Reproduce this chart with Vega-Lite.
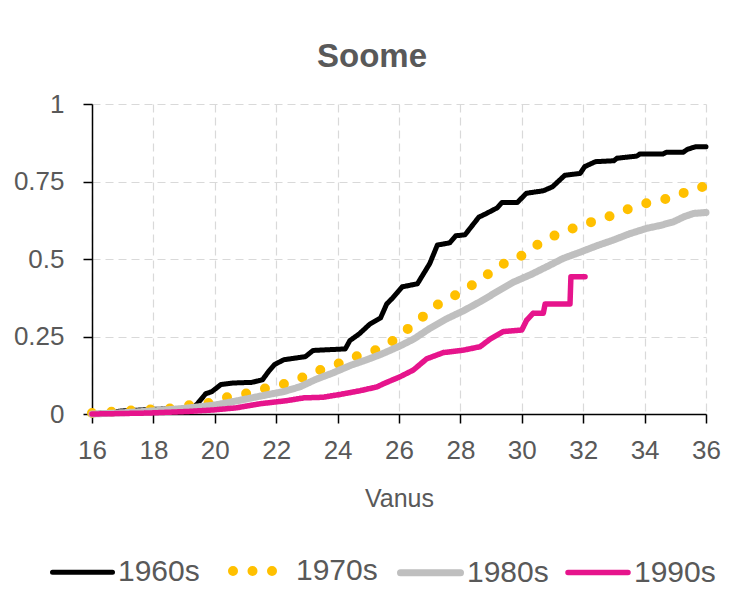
{
  "$schema": "https://vega.github.io/schema/vega-lite/v6.json",
  "width": 614,
  "height": 310,
  "autosize": {"type": "none"},
  "padding": {"left": 92, "top": 104, "right": 23, "bottom": 179},
  "background": "white",
  "title": {
    "text": "Soome",
    "fontSize": 33,
    "fontWeight": "bold",
    "font": "Liberation Sans",
    "color": "#595959",
    "anchor": "middle",
    "dx": -27,
    "offset": 17
  },
  "config": {
    "view": {"stroke": null},
    "font": "Liberation Sans",
    "axis": {
      "labelColor": "#595959",
      "titleColor": "#595959",
      "labelFontSize": 26,
      "titleFontSize": 25,
      "titleFontWeight": "normal",
      "domainColor": "#000000",
      "domainWidth": 1.5,
      "tickColor": "#000000",
      "tickWidth": 1.5,
      "tickSize": 9,
      "gridColor": "#d9d9d9",
      "gridDash": [8, 5],
      "gridWidth": 1.2,
      "labelFlush": false
    },
    "legend": {
      "labelColor": "#595959",
      "labelFontSize": 30,
      "labelFont": "Liberation Sans"
    }
  },
  "data": {
    "values": [
      {"series": "1960s", "age": 16.0, "value": 0.0},
      {"series": "1960s", "age": 16.5, "value": 0.005},
      {"series": "1960s", "age": 17.0, "value": 0.01},
      {"series": "1960s", "age": 18.0, "value": 0.015},
      {"series": "1960s", "age": 19.0, "value": 0.018},
      {"series": "1960s", "age": 19.3, "value": 0.02},
      {"series": "1960s", "age": 19.45, "value": 0.035},
      {"series": "1960s", "age": 19.7, "value": 0.065},
      {"series": "1960s", "age": 19.9, "value": 0.072},
      {"series": "1960s", "age": 20.2, "value": 0.095},
      {"series": "1960s", "age": 20.6, "value": 0.1},
      {"series": "1960s", "age": 21.2, "value": 0.102},
      {"series": "1960s", "age": 21.55, "value": 0.11},
      {"series": "1960s", "age": 21.75, "value": 0.137},
      {"series": "1960s", "age": 21.95, "value": 0.16},
      {"series": "1960s", "age": 22.25, "value": 0.175},
      {"series": "1960s", "age": 22.95, "value": 0.185},
      {"series": "1960s", "age": 23.2, "value": 0.205},
      {"series": "1960s", "age": 24.25, "value": 0.21},
      {"series": "1960s", "age": 24.4, "value": 0.237},
      {"series": "1960s", "age": 24.7, "value": 0.258},
      {"series": "1960s", "age": 25.05, "value": 0.29},
      {"series": "1960s", "age": 25.4, "value": 0.31},
      {"series": "1960s", "age": 25.6, "value": 0.355},
      {"series": "1960s", "age": 25.8, "value": 0.375},
      {"series": "1960s", "age": 26.1, "value": 0.41},
      {"series": "1960s", "age": 26.6, "value": 0.42},
      {"series": "1960s", "age": 27.0, "value": 0.485},
      {"series": "1960s", "age": 27.25, "value": 0.545},
      {"series": "1960s", "age": 27.65, "value": 0.552},
      {"series": "1960s", "age": 27.85, "value": 0.575},
      {"series": "1960s", "age": 28.15, "value": 0.578},
      {"series": "1960s", "age": 28.6, "value": 0.635},
      {"series": "1960s", "age": 28.85, "value": 0.647},
      {"series": "1960s", "age": 29.2, "value": 0.665},
      {"series": "1960s", "age": 29.35, "value": 0.682},
      {"series": "1960s", "age": 29.85, "value": 0.682},
      {"series": "1960s", "age": 30.15, "value": 0.712},
      {"series": "1960s", "age": 30.7, "value": 0.72},
      {"series": "1960s", "age": 31.0, "value": 0.733},
      {"series": "1960s", "age": 31.4, "value": 0.77},
      {"series": "1960s", "age": 31.9, "value": 0.776},
      {"series": "1960s", "age": 32.05, "value": 0.798},
      {"series": "1960s", "age": 32.4, "value": 0.814},
      {"series": "1960s", "age": 33.0, "value": 0.817},
      {"series": "1960s", "age": 33.1, "value": 0.825},
      {"series": "1960s", "age": 33.75, "value": 0.832},
      {"series": "1960s", "age": 33.85, "value": 0.839},
      {"series": "1960s", "age": 34.6, "value": 0.839},
      {"series": "1960s", "age": 34.7, "value": 0.844},
      {"series": "1960s", "age": 35.25, "value": 0.844},
      {"series": "1960s", "age": 35.4, "value": 0.854},
      {"series": "1960s", "age": 35.65, "value": 0.862},
      {"series": "1960s", "age": 36.0, "value": 0.862},

      {"series": "1970s", "age": 16.0, "value": 0.003},
      {"series": "1970s", "age": 17.0, "value": 0.01},
      {"series": "1970s", "age": 17.94, "value": 0.015},
      {"series": "1970s", "age": 18.6, "value": 0.018},
      {"series": "1970s", "age": 19.22, "value": 0.029},
      {"series": "1970s", "age": 19.88, "value": 0.036},
      {"series": "1970s", "age": 20.46, "value": 0.056},
      {"series": "1970s", "age": 21.07, "value": 0.067},
      {"series": "1970s", "age": 21.66, "value": 0.083},
      {"series": "1970s", "age": 22.25, "value": 0.097},
      {"series": "1970s", "age": 22.83, "value": 0.117},
      {"series": "1970s", "age": 23.43, "value": 0.142},
      {"series": "1970s", "age": 24.0, "value": 0.161},
      {"series": "1970s", "age": 24.58, "value": 0.185},
      {"series": "1970s", "age": 25.19, "value": 0.204},
      {"series": "1970s", "age": 25.73, "value": 0.231},
      {"series": "1970s", "age": 26.2, "value": 0.268},
      {"series": "1970s", "age": 26.68, "value": 0.305},
      {"series": "1970s", "age": 27.12, "value": 0.346},
      {"series": "1970s", "age": 27.66, "value": 0.373},
      {"series": "1970s", "age": 28.2, "value": 0.405},
      {"series": "1970s", "age": 28.75, "value": 0.438},
      {"series": "1970s", "age": 29.2, "value": 0.478},
      {"series": "1970s", "age": 29.8, "value": 0.497},
      {"series": "1970s", "age": 30.32, "value": 0.534},
      {"series": "1970s", "age": 30.83, "value": 0.567},
      {"series": "1970s", "age": 31.41, "value": 0.588},
      {"series": "1970s", "age": 31.97, "value": 0.612},
      {"series": "1970s", "age": 32.55, "value": 0.626},
      {"series": "1970s", "age": 33.14, "value": 0.649},
      {"series": "1970s", "age": 33.72, "value": 0.671},
      {"series": "1970s", "age": 34.34, "value": 0.687},
      {"series": "1970s", "age": 34.96, "value": 0.699},
      {"series": "1970s", "age": 35.53, "value": 0.725},
      {"series": "1970s", "age": 36.0, "value": 0.735},

      {"series": "1980s", "age": 16.0, "value": 0.0},
      {"series": "1980s", "age": 17.0, "value": 0.004},
      {"series": "1980s", "age": 18.0, "value": 0.01},
      {"series": "1980s", "age": 19.0, "value": 0.018},
      {"series": "1980s", "age": 19.95, "value": 0.028},
      {"series": "1980s", "age": 20.7, "value": 0.042},
      {"series": "1980s", "age": 21.7, "value": 0.062},
      {"series": "1980s", "age": 22.23, "value": 0.072},
      {"series": "1980s", "age": 22.78, "value": 0.088},
      {"series": "1980s", "age": 23.3, "value": 0.112},
      {"series": "1980s", "age": 23.86, "value": 0.133},
      {"series": "1980s", "age": 24.45, "value": 0.158},
      {"series": "1980s", "age": 24.95, "value": 0.175},
      {"series": "1980s", "age": 25.45, "value": 0.194},
      {"series": "1980s", "age": 26.0, "value": 0.218},
      {"series": "1980s", "age": 26.5, "value": 0.243},
      {"series": "1980s", "age": 27.0, "value": 0.276},
      {"series": "1980s", "age": 27.55, "value": 0.307},
      {"series": "1980s", "age": 28.1, "value": 0.333},
      {"series": "1980s", "age": 28.64, "value": 0.362},
      {"series": "1980s", "age": 29.2, "value": 0.395},
      {"series": "1980s", "age": 29.72, "value": 0.425},
      {"series": "1980s", "age": 30.3, "value": 0.45},
      {"series": "1980s", "age": 30.81, "value": 0.475},
      {"series": "1980s", "age": 31.35, "value": 0.502},
      {"series": "1980s", "age": 31.9, "value": 0.522},
      {"series": "1980s", "age": 32.45, "value": 0.543},
      {"series": "1980s", "age": 32.98, "value": 0.561},
      {"series": "1980s", "age": 33.5, "value": 0.581},
      {"series": "1980s", "age": 34.07, "value": 0.599},
      {"series": "1980s", "age": 34.5, "value": 0.608},
      {"series": "1980s", "age": 34.94, "value": 0.62},
      {"series": "1980s", "age": 35.3, "value": 0.637},
      {"series": "1980s", "age": 35.6, "value": 0.647},
      {"series": "1980s", "age": 36.0, "value": 0.65},

      {"series": "1990s", "age": 16.0, "value": 0.0},
      {"series": "1990s", "age": 17.8, "value": 0.003},
      {"series": "1990s", "age": 19.08, "value": 0.008},
      {"series": "1990s", "age": 19.95, "value": 0.013},
      {"series": "1990s", "age": 20.71, "value": 0.02},
      {"series": "1990s", "age": 21.47, "value": 0.033},
      {"series": "1990s", "age": 22.34, "value": 0.043},
      {"series": "1990s", "age": 22.9, "value": 0.052},
      {"series": "1990s", "age": 23.53, "value": 0.054},
      {"series": "1990s", "age": 24.08, "value": 0.063},
      {"series": "1990s", "age": 24.73, "value": 0.075},
      {"series": "1990s", "age": 25.27, "value": 0.087},
      {"series": "1990s", "age": 25.55, "value": 0.1},
      {"series": "1990s", "age": 26.03, "value": 0.12},
      {"series": "1990s", "age": 26.47, "value": 0.142},
      {"series": "1990s", "age": 26.9, "value": 0.178},
      {"series": "1990s", "age": 27.44, "value": 0.198},
      {"series": "1990s", "age": 28.1, "value": 0.206},
      {"series": "1990s", "age": 28.64, "value": 0.217},
      {"series": "1990s", "age": 28.96, "value": 0.241},
      {"series": "1990s", "age": 29.4, "value": 0.266},
      {"series": "1990s", "age": 30.0, "value": 0.271},
      {"series": "1990s", "age": 30.16, "value": 0.303},
      {"series": "1990s", "age": 30.37, "value": 0.325},
      {"series": "1990s", "age": 30.7, "value": 0.325},
      {"series": "1990s", "age": 30.76, "value": 0.355},
      {"series": "1990s", "age": 31.57, "value": 0.355},
      {"series": "1990s", "age": 31.6, "value": 0.443},
      {"series": "1990s", "age": 32.06, "value": 0.443}
    ]
  },
  "mark": {"type": "line", "strokeCap": "round", "strokeJoin": "round", "clip": false},
  "encoding": {
    "x": {
      "field": "age",
      "type": "quantitative",
      "scale": {"domain": [16, 36], "nice": false, "zero": false},
      "axis": {
        "title": "Vanus",
        "values": [16, 18, 20, 22, 24, 26, 28, 30, 32, 34, 36],
        "labelPadding": 14,
        "titlePadding": 23
      }
    },
    "y": {
      "field": "value",
      "type": "quantitative",
      "scale": {"domain": [0, 1], "nice": false},
      "axis": {
        "title": null,
        "values": [0, 0.25, 0.5, 0.75, 1],
        "format": ".2~f",
        "labelPadding": 19
      }
    },
    "color": {
      "field": "series",
      "type": "nominal",
      "scale": {
        "domain": ["1960s", "1970s", "1980s", "1990s"],
        "range": ["#000000", "#FFC000", "#BFBFBF", "#E6148C"]
      },
      "legend": {
        "title": null,
        "orient": "none",
        "direction": "horizontal",
        "legendX": -42,
        "legendY": 432,
        "symbolType": "stroke",
        "symbolSize": 3600,
        "labelOffset": 3,
        "columnPadding": 8,
        "encode": {
          "symbols": {
            "update": {
              "strokeCap": {"value": "round"},
              "strokeDashOffset": {"value": 14.5}
            }
          }
        }
      }
    },
    "strokeDash": {
      "field": "series",
      "type": "nominal",
      "scale": {
        "domain": ["1960s", "1970s", "1980s", "1990s"],
        "range": [[1, 0], [0, 19.5], [1, 0], [1, 0]]
      },
      "legend": null
    },
    "strokeWidth": {
      "field": "series",
      "type": "nominal",
      "scale": {
        "type": "ordinal",
        "domain": ["1960s", "1970s", "1980s", "1990s"],
        "range": [5, 10, 7, 5.5]
      },
      "legend": null
    }
  }
}
